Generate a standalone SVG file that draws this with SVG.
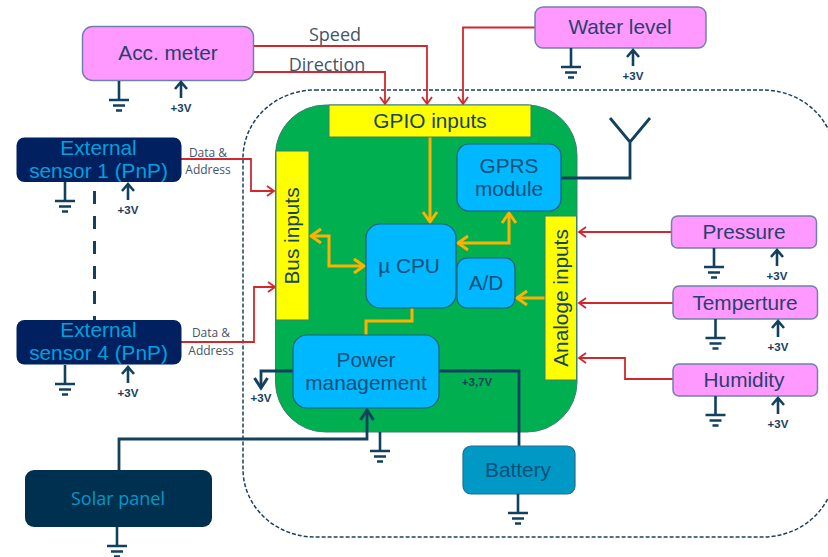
<svg xmlns="http://www.w3.org/2000/svg" width="828" height="557" viewBox="0 0 828 557">
<style>
text{font-family:"Liberation Sans",Arial,sans-serif;text-anchor:middle}
.pink{fill:#FF99FF;stroke:#6F83A8;stroke-width:1.5}
.blue{fill:#00B8FF;stroke:#1F5F80;stroke-width:1.2}
.yel{fill:#FFFF00;stroke:#3F7F70;stroke-width:1}
.lbl{fill:#2A3F6E;font-size:20.800px}
.in{fill:#0B4F78;font-size:20.800px}
.yt{fill:#17465A;font-size:20.800px}
.ext{fill:#00A0DC;font-size:20.800px}
.v{fill:#17405F;font-size:11.500px;font-weight:bold}
.small{fill:#44546A;font-size:12px;font-family:"Open Sans",sans-serif}
.sig{fill:#44546A;font-size:18px;font-family:"Open Sans",sans-serif}
.red{fill:none;stroke:#D2272C;stroke-width:1.800;marker-end:url(#ra)}
.or{fill:none;stroke:#FFB000;stroke-width:3}
.dk{fill:none;stroke:#12405F;stroke-width:2.800}
.gnd{fill:none;stroke:#12405F;stroke-width:2.600}
</style>
<defs>
<marker id="ra" markerUnits="userSpaceOnUse" markerWidth="12" markerHeight="12" refX="9" refY="6" orient="auto"><path d="M2 1 L9 6 L2 11" fill="none" stroke="#D2272C" stroke-width="1.800"/></marker>
<marker id="oa" markerUnits="userSpaceOnUse" markerWidth="16" markerHeight="18" refX="13" refY="9" orient="auto-start-reverse"><path d="M3 2 L13 9 L3 16" fill="none" stroke="#FFB000" stroke-width="3"/></marker>
<marker id="da" markerUnits="userSpaceOnUse" markerWidth="16" markerHeight="16" refX="13" refY="8" orient="auto"><path d="M3 1.500 L13 8 L3 14.500" fill="none" stroke="#12405F" stroke-width="3"/></marker>
<g id="g"><path class="gnd" d="M0 0V18M-10 19H10M-6 24.500H6M-3 29.500H3"/></g>
<g id="p"><path class="gnd" d="M0 17V1M-6 8L0 1L6 8"/><text class="v" y="31">+3V</text></g>
</defs>
<g id="enclosure"><rect x="243" y="90" width="592" height="447" rx="72" ry="68" fill="none" stroke="#1F4060" stroke-width="1.500" stroke-dasharray="4 2"/></g>
<g id="board"><rect x="275.500" y="105" width="301.500" height="327" rx="50" fill="#00B050" stroke="#3F7F70"/></g>
<g id="connectors">
<path class="red" d="M253 46H427V104"/>
<path class="red" d="M253 72H385V104"/>
<path class="red" d="M535 27.500H463V104"/>
<path class="red" d="M181 159H251V191H274"/>
<path class="red" d="M181 342H254V287H275"/>
<path class="red" d="M671 232H579"/>
<path class="red" d="M673 303H579"/>
<path class="red" d="M673 379H625V358H579"/>
<path class="or" marker-end="url(#oa)" d="M430 137V222"/>
<path class="or" marker-start="url(#oa)" marker-end="url(#oa)" d="M311 236H329V266H364"/>
<path class="or" marker-start="url(#oa)" marker-end="url(#oa)" d="M458 243H509V213"/>
<path class="or" marker-end="url(#oa)" d="M545 298H517"/>
<path class="or" d="M412 308V321H366V335"/>
<path class="dk" d="M561 178H630V142M610 118L630 142L650 118"/>
<path class="dk" marker-end="url(#da)" d="M293 371H261V388"/>
<path class="dk" d="M439 371H519V446"/>
<path class="dk" marker-end="url(#da)" d="M119 470V439H367V410"/>
<path d="M94.500 191V320" fill="none" stroke="#12405F" stroke-width="3" stroke-dasharray="13 12"/>
</g>
<g id="acc-meter"><rect class="pink" x="82.500" y="26.500" width="171" height="54" rx="10"/><text class="lbl" x="168" y="60">Acc. meter</text><use href="#g" x="119" y="81"/><use href="#p" x="181" y="81"/></g>
<g id="water-level"><rect class="pink" x="535" y="7" width="171" height="41" rx="8"/><text class="lbl" x="620" y="34">Water level</text><use href="#g" x="571" y="48"/><use href="#p" x="633" y="49"/></g>
<g id="pressure"><rect class="pink" x="671.500" y="216" width="145" height="32" rx="6"/><text class="lbl" x="744" y="239">Pressure</text><use href="#g" x="714" y="248"/><use href="#p" x="777" y="249"/></g>
<g id="temperature"><rect class="pink" x="673" y="286" width="144.500" height="33" rx="6"/><text class="lbl" x="745" y="310">Temperture</text><use href="#g" x="715.500" y="319"/><use href="#p" x="778" y="320"/></g>
<g id="humidity"><rect class="pink" x="673" y="364" width="144.500" height="32" rx="6"/><text class="lbl" x="744" y="387">Humidity</text><use href="#g" x="715.500" y="396"/><use href="#p" x="778" y="397"/></g>
<g id="external-1"><rect x="16.500" y="137.500" width="165" height="44.500" rx="8" fill="#002060"/><text class="ext" x="98.500" y="155">External</text><text class="ext" x="98.500" y="178">sensor 1 (PnP)</text><use href="#g" x="65" y="182"/><use href="#p" x="128" y="183"/></g>
<g id="external-4"><rect x="16.500" y="320" width="165" height="44.500" rx="8" fill="#002060"/><text class="ext" x="98.500" y="337">External</text><text class="ext" x="98.500" y="360">sensor 4 (PnP)</text><use href="#g" x="65" y="365"/><use href="#p" x="128" y="366"/></g>
<text class="sig" x="335" y="41">Speed</text>
<text class="sig" x="327" y="71">Direction</text>
<text class="small" x="208" y="157">Data &amp;</text>
<text class="small" x="208" y="174">Address</text>
<text class="small" x="211" y="337">Data &amp;</text>
<text class="small" x="211" y="355">Address</text>
<g id="gpio"><rect class="yel" x="329" y="105" width="202" height="32"/><text class="yt" x="430" y="128">GPIO inputs</text></g>
<g id="bus"><rect class="yel" x="276" y="151" width="33" height="169"/><text class="yt" transform="translate(299 236) rotate(-90)">Bus inputs</text></g>
<g id="analog"><rect class="yel" x="545" y="216" width="31.500" height="164"/><text class="yt" transform="translate(568 298) rotate(-90)">Analoge inputs</text></g>
<g id="gprs"><rect class="blue" x="457" y="144" width="104" height="67" rx="12"/><text class="in" x="509" y="173">GPRS</text><text class="in" x="509" y="196">module</text></g>
<g id="cpu"><rect class="blue" x="366" y="224" width="90" height="84" rx="14"/><text class="in" x="409" y="273">µ CPU</text></g>
<g id="ad"><rect class="blue" x="457" y="258" width="58" height="50" rx="10"/><text class="in" x="486" y="290">A/D</text></g>
<g id="power"><rect class="blue" x="293" y="335" width="146" height="73" rx="14"/><text class="in" x="366" y="367">Power</text><text class="in" x="366" y="390">management</text><use href="#g" x="380" y="432"/></g>
<text class="v" x="261" y="402">+3V</text>
<text class="v" x="477" y="386">+3,7V</text>
<g id="battery"><rect x="463" y="446" width="112" height="48" rx="8" fill="#0099C6" stroke="#1F6F90" stroke-width="1.200"/><text class="in" x="518" y="477">Battery</text><use href="#g" x="518" y="494"/></g>
<g id="solar"><rect x="25" y="470" width="187" height="57" rx="9" fill="#003050"/><text x="118" y="505" font-size="18" fill="#0099C8" style="font-family:'Open Sans',sans-serif">Solar panel</text><use href="#g" x="117" y="527"/></g>
</svg>
